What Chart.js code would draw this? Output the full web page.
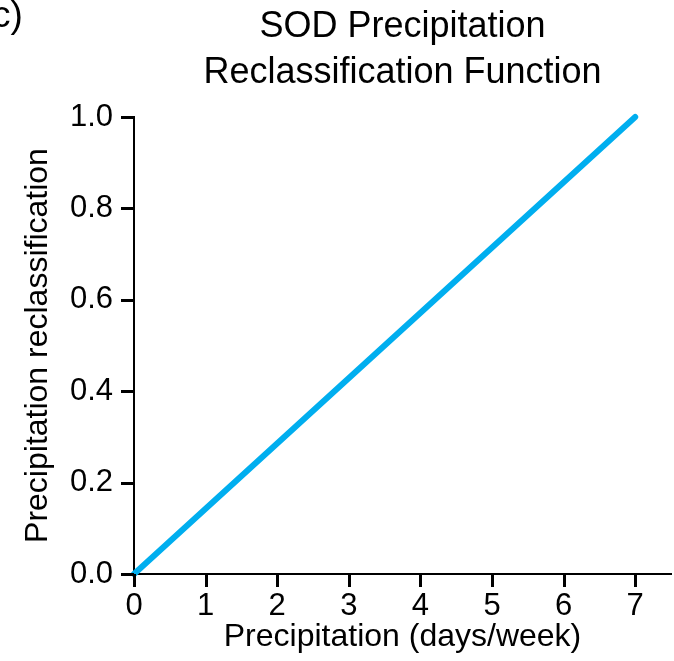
<!DOCTYPE html>
<html>
<head>
<meta charset="utf-8">
<script src="https://cdn.jsdelivr.net/npm/chart.js@4"></script>
<style>
  html, body { margin: 0; padding: 0; background: #fff; }
  #wrap { width: 674px; height: 661px; position: relative; }
</style>
</head>
<body>
<div id="wrap"><canvas id="reclassChart"></canvas></div>
<script>
// precipitation (days/week) and its reclassified value
const precipDays = [0, 7];
const reclassValues = [0, 1];
const xTicks = [0, 1, 2, 3, 4, 5, 6, 7];
const yTicks = [0, 0.2, 0.4, 0.6, 0.8, 1.0];
const titleLines = ["SOD Precipitation", "Reclassification Function"];
const panelLabel = "c)";

const FONT = "'Liberation Sans', Arial, sans-serif";
const TICK_LEN = 13;

// title block and panel letter
const headerText = {
  id: "headerText",
  afterDraw(chart) {
    const ctx = chart.ctx;
    const area = chart.chartArea;
    ctx.save();
    ctx.fillStyle = "#000";
    ctx.font = "36px " + FONT;
    ctx.textAlign = "center";
    ctx.textBaseline = "alphabetic";
    const cx = (area.left + area.right) / 2;
    ctx.fillText(titleLines[0], cx, 37);
    ctx.fillText(titleLines[1], cx, 83);
    ctx.textAlign = "left";
    ctx.font = "37px " + FONT;
    ctx.fillText(panelLabel, -8, 27);
    ctx.restore();
  },
};

// outward tick marks on both axes, placed by the scales
const tickMarks = {
  id: "tickMarks",
  afterDraw(chart) {
    const ctx = chart.ctx;
    const x = chart.scales.x;
    const y = chart.scales.y;
    ctx.save();
    ctx.fillStyle = "#000";
    x.ticks.forEach((t) => {
      const px = Math.round(x.getPixelForValue(t.value));
      ctx.fillRect(px - 1, x.top, 3, TICK_LEN);
    });
    y.ticks.forEach((t) => {
      const py = Math.round(y.getPixelForValue(t.value));
      ctx.fillRect(y.right - TICK_LEN, py - 1, TICK_LEN, 3);
    });
    ctx.restore();
  },
};

window.addEventListener("DOMContentLoaded", () => {
  const ctx = document.getElementById("reclassChart").getContext("2d");

  new Chart(ctx, {
    type: "line",
    data: {
      datasets: [
        {
          data: precipDays.map((d, i) => ({ x: d, y: reclassValues[i] })),
          borderColor: "#00aeef",
          borderWidth: 6,
          borderCapStyle: "round",
          pointRadius: 0,
          fill: false,
          tension: 0,
          clip: 4,
        },
      ],
    },
    options: {
      responsive: true,
      maintainAspectRatio: false,
      animation: false,
      layout: { padding: { top: 117, right: 3, left: 0, bottom: 0 } },
      plugins: {
        legend: { display: false },
        tooltip: { enabled: false },
      },
      scales: {
        x: {
          type: "linear",
          min: 0,
          max: 7.5,
          afterBuildTicks: (s) => {
            s.ticks = xTicks.map((v) => ({ value: v }));
          },
          afterFit: (s) => {
            s.height = 87;
          },
          ticks: {
            color: "#000",
            font: { family: FONT, size: 31 },
            padding: 1,
            maxRotation: 0,
            autoSkip: false,
            callback: (v) => String(v),
          },
          grid: {
            drawOnChartArea: false,
            color: "#000",
            lineWidth: 2,
            tickLength: TICK_LEN,
          },
          border: { color: "#000", width: 2 },
          title: {
            display: true,
            text: "Precipitation (days/week)",
            color: "#000",
            font: { family: FONT, size: 32 },
            padding: { top: 0, bottom: 5 },
          },
        },
        y: {
          type: "linear",
          min: 0,
          max: 1,
          afterBuildTicks: (s) => {
            s.ticks = yTicks.map((v) => ({ value: v }));
          },
          afterFit: (s) => {
            s.width = 134;
          },
          ticks: {
            color: "#000",
            font: { family: FONT, size: 31 },
            padding: 8,
            autoSkip: false,
            callback: (v) => Number(v).toFixed(1),
          },
          grid: {
            drawOnChartArea: false,
            color: "#000",
            lineWidth: 2,
            tickLength: TICK_LEN,
          },
          border: { color: "#000", width: 2 },
          title: {
            display: true,
            text: "Precipitation reclassification",
            color: "#000",
            font: { family: FONT, size: 32 },
            padding: { top: 19, bottom: 0 },
          },
        },
      },
    },
    plugins: [headerText, tickMarks],
  });
});
</script>
</body>
</html>
